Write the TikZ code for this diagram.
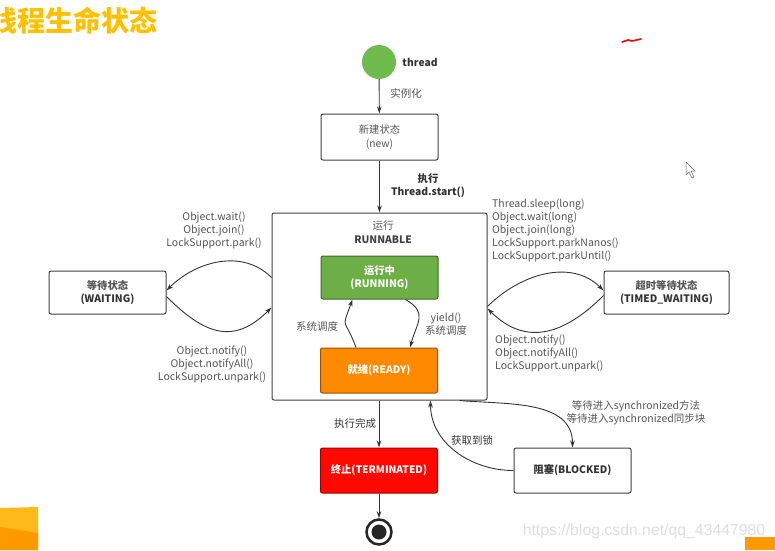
\documentclass[tikz,border=0pt]{standalone}
\usepackage{fontspec}
\setmainfont{Noto Sans CJK SC}
\newfontfamily\urlfont{Liberation Sans}
\usepackage{xcolor}
\usetikzlibrary{arrows.meta}

\definecolor{titleyellow}{HTML}{FFC000}
\definecolor{startgreen}{HTML}{70BB4E}
\definecolor{rungreen}{HTML}{6DAE46}
\definecolor{readyorange}{HTML}{FF8A00}
\definecolor{termred}{HTML}{FF0800}
\definecolor{linegray}{HTML}{333333}
\definecolor{textgray}{HTML}{555555}

\begin{document}
\begin{tikzpicture}[x=1pt,y=1pt,
  state/.style={draw=black!75,line width=1pt,rounded corners=2pt,minimum width=117pt,
    minimum height=45pt,align=center,inner sep=0pt,text=textgray,font=\fontsize{10.3}{13.5}\selectfont},
  active/.style={state,text=white,font=\fontsize{10.3}{13.5}\selectfont\bfseries},
  flow/.style={draw=linegray,line width=0.9pt,-{Stealth[length=7pt,width=4.5pt]}},
  lbl/.style={align=center,text=textgray,inner sep=0pt,font=\fontsize{10.5}{13}\selectfont}]
\useasboundingbox (0,0) rectangle (775,-550);

% Title and screen leftovers
\node[anchor=west,text=titleyellow,font=\fontsize{28}{28}\selectfont\bfseries] (title) at (-14,-21) {线程生命状态};
\draw[red,line width=1.6pt,line cap=round] (622,-42) -- (628,-40) -- (632,-41) -- (641,-39);
\draw[black!60,fill=white,line width=0.5pt] (686,-162) -- (686,-175) -- (689,-172) -- (692,-178) -- (694,-177) -- (691,-171) -- (695,-171) -- cycle;
\fill[orange!60!yellow!90] (0,-508) -- (38,-507) -- (38,-550) -- (0,-550) -- cycle;
\fill[orange!80!yellow] (0,-527) -- (38,-533) -- (38,-550) -- (0,-550) -- cycle;
\fill[orange!80!yellow] (745,-537) rectangle (775,-550);
\node[text=black!13,font=\urlfont\fontsize{15.8}{15.8}\selectfont] (mark) at (644,-531) {https://blog.csdn.net/qq\_43447980};

% Start
\node[circle,fill=startgreen,minimum size=34pt] (start) at (379,-62) {};
\node[font=\fontsize{10.3}{13}\selectfont\bfseries,text=black!80] (threadlbl) at (420,-62) {thread};

% New
\node[state,minimum height=46pt] (new) at (379.5,-137) {新建状态\\(new)};
\draw[flow] (start) -- (new);
\node[lbl] (initlbl) at (406,-93) {实例化};

% Runnable container
\node[draw=black!75,line width=1pt,rounded corners=2pt,minimum width=215pt,minimum height=187pt] (runnable) at (379.5,-306.5) {};
\node[lbl] (runlbl) at (383,-226) {运行};
\node[lbl,font=\fontsize{10.3}{13}\selectfont\bfseries,text=black!75] (runlbl2) at (383,-240) {RUNNABLE};
\draw[flow] (new) -- (runnable);
\node[lbl,font=\fontsize{10.3}{13}\selectfont\bfseries,text=black!80] (startlbl) at (428,-186) {执行\\Thread.start()};

% Running and ready
\node[active,fill=rungreen,draw=rungreen!60!black,minimum height=43pt] (running) at (379.5,-277.5) {运行中\\(RUNNING)};
\node[active,fill=readyorange,draw=readyorange!60!black] (ready) at (379,-370.5) {就绪(READY)};
\draw[flow] ([xshift=-23pt]ready.north) to[out=110,in=-110,looseness=1.8] ([xshift=-27pt]running.south);
\draw[flow] ([xshift=26pt]running.south) to[out=-30,in=75,looseness=1.4] ([xshift=31pt]ready.north);
\node[lbl] (schedlbl) at (317,-326) {系统调度};
\node[lbl] (yieldlbl) at (446,-324) {yield()\\系统调度};

% Waiting
\node[state,minimum height=43pt] (waiting) at (107.5,-292.5) {\textbf{等待状态}\\\textbf{\textcolor{black!80}{(WAITING)}}};
\draw[flow] ([yshift=29pt]runnable.west) to[out=135,in=45] ([yshift=2pt]waiting.east);
\draw[flow] ([yshift=-4pt]waiting.east) to[out=-45,in=-135,looseness=1.3] ([yshift=-1pt]runnable.west);
\node[lbl] (waitlbl) at (214,-230) {Object.wait()\\Object.join()\\LockSupport.park()};
\node[lbl] (notifylbl) at (212,-364) {Object.notify()\\Object.notifyAll()\\LockSupport.unpark()};

% Timed waiting
\node[state,minimum width=125pt,minimum height=43pt] (timed) at (666.5,-292.5) {\textbf{超时等待状态}\\\textbf{\textcolor{black!80}{(TIMED\_WAITING)}}};
\draw[flow] (runnable.east) to[out=45,in=135] ([yshift=2pt]timed.west);
\draw[flow] ([yshift=-3pt]timed.west) to[out=-135,in=-45,looseness=1.2] ([yshift=-2pt]runnable.east);
\node[lbl,anchor=north west,align=left] (timedlbl) at (492,-199) {Thread.sleep(long)\\Object.wait(long)\\Object.join(long)\\LockSupport.parkNanos()\\LockSupport.parkUntil()};
\node[lbl,anchor=north west,align=left] (timednotify) at (495,-335) {Object.notify()\\Object.notifyAll()\\LockSupport.unpark()};

% Blocked
\node[state] (blocked) at (572.5,-470.5) {\textbf{\textcolor{black!80}{阻塞(BLOCKED)}}};
\draw[flow] ([xshift=80pt]runnable.south) to[out=-5,in=90] (blocked.north);
\draw[flow] (blocked.west) to[out=180,in=-90] ([xshift=51pt]runnable.south);
\node[lbl] (synclbl) at (636,-413) {等待进入synchronized方法\\等待进入synchronized同步块};
\node[lbl,text=black!80] (locklbl) at (472,-440) {获取到锁};

% Terminated
\node[active,fill=termred,draw=termred!60!black] (terminated) at (379,-470.5) {终止(TERMINATED)};
\draw[flow] (terminated.north |- runnable.south) -- (terminated.north);
\node[lbl,text=black!80] (donelbl) at (355,-423) {执行完成};

% End
\node[circle,draw=black!85,line width=2.5pt,minimum size=25pt] (finish) at (379,-532) {};
\node[circle,fill=black!85,minimum size=15pt] (finishdot) at (finish) {};
\draw[flow] (terminated) -- (finish);
\end{tikzpicture}
\end{document}
